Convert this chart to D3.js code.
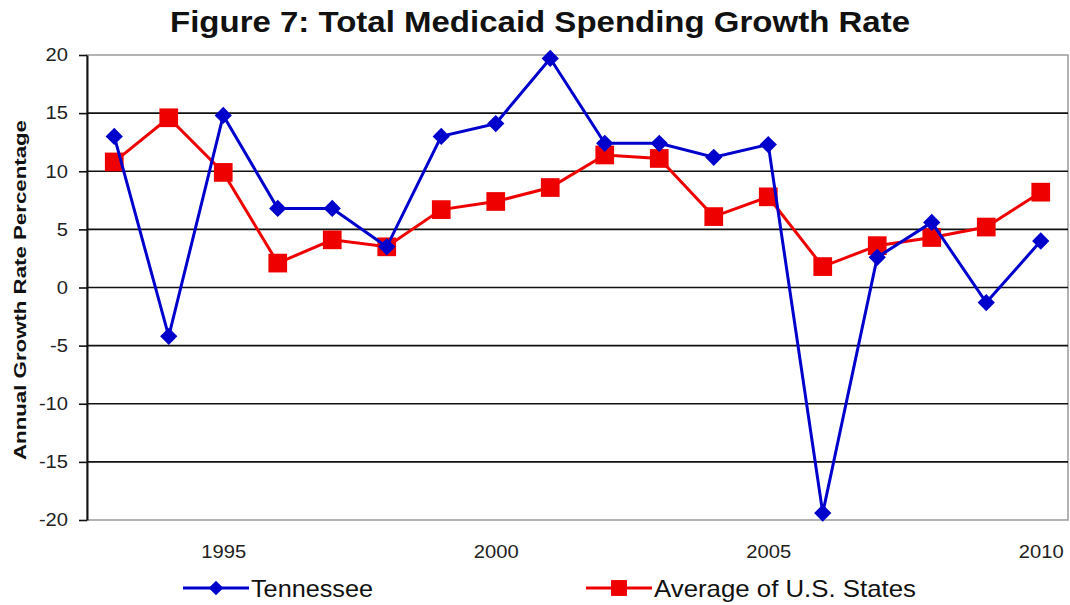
<!DOCTYPE html>
<html>
<head>
<meta charset="utf-8">
<script src="https://cdn.jsdelivr.net/npm/d3@7"></script>
<style>
  html, body { margin: 0; padding: 0; background: #fff; }
  svg { display: block; font-family: "Liberation Sans", Arial, sans-serif; }
</style>
</head>
<body>
<svg id="chart" width="1070" height="605"></svg>
<script>
// Annual Medicaid spending growth, percent
const years = [1993, 1994, 1995, 1996, 1997, 1998, 1999, 2000, 2001, 2002,
               2003, 2004, 2005, 2006, 2007, 2008, 2009, 2010];
const tennessee = [13.0, -4.2, 14.8, 6.8, 6.8, 3.5, 13.0, 14.1, 19.7, 12.4,
                   12.4, 11.2, 12.3, -19.4, 2.6, 5.6, -1.3, 4.0];
const usAverage = [10.8, 14.6, 9.9, 2.1, 4.1, 3.5, 6.7, 7.4, 8.6, 11.4,
                   11.1, 6.1, 7.8, 1.8, 3.6, 4.3, 5.2, 8.2];
const yTicks = [-20, -15, -10, -5, 0, 5, 10, 15, 20];
const xTickLabels = [1995, 2000, 2005, 2010];
const seriesNames = ["Tennessee", "Average of U.S. States"];

const svg = d3.select("#chart");
const plot = { left: 87, right: 1068, top: 55, bottom: 520 };
const fontStack = "'Liberation Sans', Arial, sans-serif";

const x = d3.scaleLinear()
  .domain([years[0] - 0.5, years[years.length - 1] + 0.5])
  .range([plot.left, plot.right]);
const y = d3.scaleLinear().domain([-20, 20]).range([plot.bottom, plot.top]);

// Slightly widen axis labels
function widen(sel, k) {
  sel.each(function () {
    const w = this.getComputedTextLength();
    d3.select(this).attr("textLength", w * k).attr("lengthAdjust", "spacingAndGlyphs");
  });
}

// Title
svg.append("text")
  .attr("x", 540).attr("y", 32)
  .attr("text-anchor", "middle")
  .attr("font-weight", "bold").attr("font-size", 30)
  .attr("textLength", 740).attr("lengthAdjust", "spacingAndGlyphs")
  .attr("fill", "#111")
  .text("Figure 7: Total Medicaid Spending Growth Rate");

// Plot border (grey) and horizontal gridlines (black)
svg.append("rect")
  .attr("x", plot.left).attr("y", plot.top)
  .attr("width", plot.right - plot.left).attr("height", plot.bottom - plot.top)
  .attr("fill", "none").attr("stroke", "#9a9a9a").attr("stroke-width", 1.5);

svg.append("g").selectAll("line")
  .data(yTicks.filter(t => t > -20 && t < 20))
  .join("line")
  .attr("x1", plot.left).attr("x2", plot.right)
  .attr("y1", d => y(d)).attr("y2", d => y(d))
  .attr("stroke", "#111").attr("stroke-width", 1.6);

// Y axis
const yAxis = svg.append("g")
  .attr("transform", `translate(${plot.left},0)`)
  .call(d3.axisLeft(y).tickValues(yTicks).tickFormat(d => String(d))
    .tickSize(8).tickPadding(11).tickSizeOuter(0));
yAxis.select(".domain").attr("stroke", "#111").attr("stroke-width", 2);
yAxis.selectAll(".tick line").attr("stroke", "#111").attr("stroke-width", 1.6);
yAxis.selectAll(".tick text")
  .attr("font-size", 18).attr("fill", "#222")
  .style("font-family", fontStack)
  .call(widen, 1.12);

// X axis labels
const xAxis = svg.append("g")
  .attr("transform", `translate(0,${plot.bottom})`)
  .call(d3.axisBottom(x).tickValues(xTickLabels).tickFormat(d3.format("d"))
    .tickSize(0).tickPadding(25));
xAxis.select(".domain").remove();
xAxis.selectAll(".tick text")
  .attr("font-size", 18).attr("fill", "#222")
  .style("font-family", fontStack)
  .call(widen, 1.12);

// Y axis title
svg.append("text")
  .attr("transform", "translate(26,290) rotate(-90)")
  .attr("text-anchor", "middle")
  .attr("font-weight", "bold").attr("font-size", 17)
  .attr("textLength", 340).attr("lengthAdjust", "spacingAndGlyphs")
  .attr("fill", "#111")
  .text("Annual Growth Rate Percentage");

const line = d3.line().x(d => x(d[0])).y(d => y(d[1]));
const blue = "#0000cc", red = "#ee0000";
const diamond = d3.symbol().type(d3.symbolDiamond2).size(190);
const square = d3.symbol().type(d3.symbolSquare).size(350);

function drawSeries(values, color, sym) {
  const pts = years.map((yr, i) => [yr, values[i]]);
  svg.append("path").datum(pts)
    .attr("d", line).attr("fill", "none")
    .attr("stroke", color).attr("stroke-width", 3)
    .attr("stroke-linejoin", "miter");
  svg.append("g").selectAll("path")
    .data(pts).join("path")
    .attr("d", sym)
    .attr("transform", d => `translate(${x(d[0])},${y(d[1])})`)
    .attr("fill", color);
}

drawSeries(usAverage, red, square);
drawSeries(tennessee, blue, diamond);

// Legend
const legend = [
  { name: seriesNames[0], color: blue, sym: diamond, x0: 183, width: 122 },
  { name: seriesNames[1], color: red, sym: square, x0: 586, width: 262 }
];
const lg = svg.append("g").selectAll("g").data(legend).join("g")
  .attr("transform", d => `translate(${d.x0},588)`);
lg.append("line").attr("x1", 0).attr("x2", 66).attr("y1", 0).attr("y2", 0)
  .attr("stroke", d => d.color).attr("stroke-width", 3);
lg.append("path").attr("d", d => d.sym()).attr("transform", "translate(33,0) scale(0.85)")
  .attr("fill", d => d.color);
lg.append("text").attr("x", 68).attr("y", 9)
  .attr("font-size", 24).attr("fill", "#111")
  .attr("textLength", d => d.width).attr("lengthAdjust", "spacingAndGlyphs")
  .text(d => d.name);
</script>
</body>
</html>
